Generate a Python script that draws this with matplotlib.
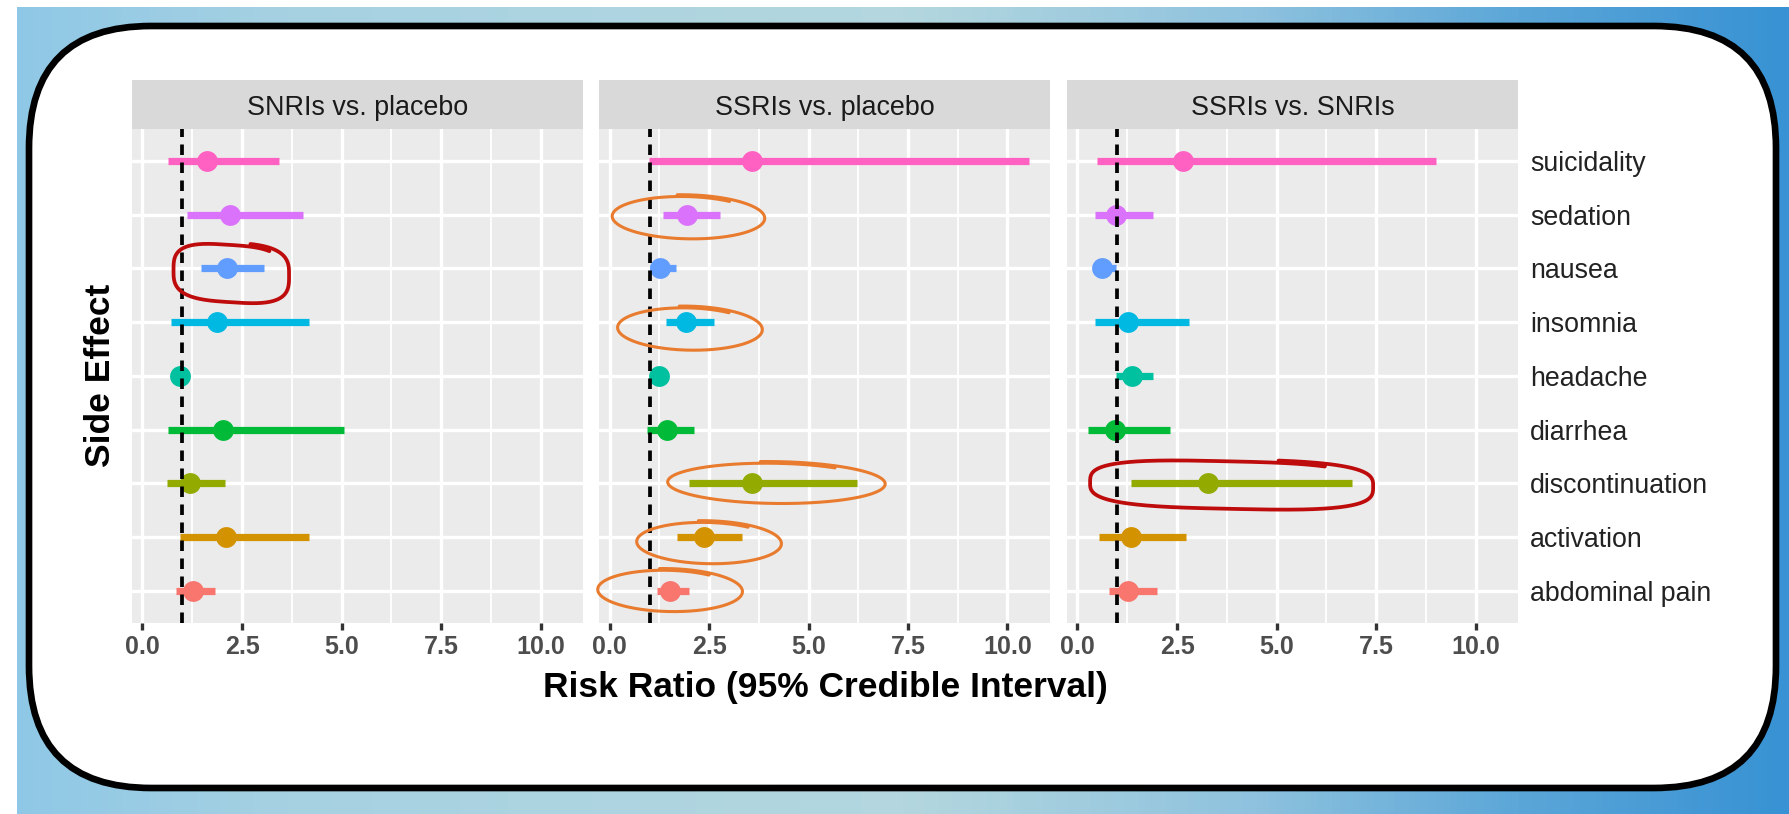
import numpy as np
import matplotlib
matplotlib.use("Agg")
import matplotlib.pyplot as plt
from matplotlib.patches import FancyBboxPatch
from matplotlib.colors import LinearSegmentedColormap

plt.rcParams["font.family"] = ["Liberation Sans", "DejaVu Sans"]

# ---------------------------------------------------------------- data
side_effects = ["abdominal pain", "activation", "discontinuation", "diarrhea",
                "headache", "insomnia", "nausea", "sedation", "suicidality"]
effect_colors = ["#F8766D", "#D39200", "#93AA00", "#00BA38", "#00C19F",
                 "#00B9E3", "#619CFF", "#DB72FB", "#FF61C3"]
comparisons = ["SNRIs vs. placebo", "SSRIs vs. placebo", "SSRIs vs. SNRIs"]

# risk ratio and 95% credible interval, in the order of side_effects
snri_placebo_rr    = [1.27, 2.09, 1.20, 2.02, 0.94, 1.87, 2.13, 2.19, 1.61]
snri_placebo_lower = [0.83, 0.94, 0.62, 0.65, 0.86, 0.72, 1.47, 1.13, 0.65]
snri_placebo_upper = [1.83, 4.19, 2.07, 5.07, 1.03, 4.19, 3.04, 4.02, 3.42]

ssri_placebo_rr    = [1.52, 2.38, 3.58, 1.44, 1.25, 1.92, 1.27, 1.94, 3.57]
ssri_placebo_lower = [1.19, 1.69, 2.00, 0.94, 1.12, 1.42, 1.00, 1.34, 0.98]
ssri_placebo_upper = [2.00, 3.33, 6.22, 2.12, 1.38, 2.61, 1.67, 2.76, 10.54]

ssri_snri_rr    = [1.27, 1.34, 3.28, 0.94, 1.38, 1.27, 0.61, 0.98, 2.65]
ssri_snri_lower = [0.78, 0.54, 1.34, 0.27, 0.96, 0.43, 0.45, 0.44, 0.48]
ssri_snri_upper = [1.99, 2.73, 6.89, 2.32, 1.90, 2.81, 0.96, 1.90, 9.01]

x_ticks = [0.0, 2.5, 5.0, 7.5, 10.0]
x_tick_labels = ["0.0", "2.5", "5.0", "7.5", "10.0"]
x_minor = [1.25, 3.75, 6.25, 8.75]
null_value = 1.0

panel_data = [
    (snri_placebo_rr, snri_placebo_lower, snri_placebo_upper),
    (ssri_placebo_rr, ssri_placebo_lower, ssri_placebo_upper),
    (ssri_snri_rr, ssri_snri_lower, ssri_snri_upper),
]

# hand-drawn highlight loops: (panel, side effect, x from, x to, top, bottom, colour)
highlights = [
    (0, "nausea", 0.72, 3.68, 0.47, -0.64, "red"),
    (1, "sedation", -0.02, 3.90, 0.36, -0.46, "orange"),
    (1, "insomnia", 0.12, 3.84, 0.29, -0.53, "orange"),
    (1, "discontinuation", 1.34, 6.93, 0.40, -0.38, "orange"),
    (1, "activation", 0.60, 4.32, 0.30, -0.50, "orange"),
    (1, "abdominal pain", -0.38, 3.34, 0.41, -0.39, "orange"),
    (2, "discontinuation", 0.17, 7.42, 0.44, -0.48, "red"),
]

# ---------------------------------------------------------------- figure
W, H = 1790, 814
fig = plt.figure(figsize=(W / 100, H / 100), dpi=100, facecolor="white")


def px_axes(x0, y0, x1, y1, **kw):
    """Axes from a pixel box measured from the top-left corner."""
    return fig.add_axes([x0 / W, 1 - y1 / H, (x1 - x0) / W, (y1 - y0) / H], **kw)


# backdrop: blue gradient behind a rounded white card
bg = fig.add_axes([0, 0, 1, 1], zorder=-5)
bg.set_xlim(0, W)
bg.set_ylim(H, 0)
bg.axis("off")
grad_cmap = LinearSegmentedColormap.from_list(
    "backdrop",
    [(0.00, "#8fc8e6"), (0.15, "#a6d1e2"), (0.50, "#b4d7df"),
     (0.70, "#8ec2de"), (0.85, "#5ba6d8"), (1.00, "#3892d3")])
bg.imshow(np.linspace(0, 1, 512)[None, :], extent=(17, W, H, 7),
          aspect="auto", cmap=grad_cmap, interpolation="bicubic")
bg.add_patch(FancyBboxPatch((29, 26), 1776 - 29, 788 - 26,
                            boxstyle="round,pad=0,rounding_size=122",
                            fc="white", ec="black", lw=4.8))

panel_x = [(131.7, 583.3), (599.0, 1050.0), (1066.7, 1518.3)]
strip_top, panel_top, panel_bottom = 80.0, 128.5, 623.3
rows = np.arange(1, len(side_effects) + 1)

orange = "#E97B2E"
red = "#BE0B0B"


def scribble(ax, x_left, x_right, row, top, bottom, color, lw,
             square=2.0, tilt=0.0, overshoot=0.7, start=0.3 * np.pi):
    cx = (x_left + x_right) / 2
    a = (x_right - x_left) / 2
    cy = row + (top + bottom) / 2
    b = (top - bottom) / 2
    t = np.linspace(start, start + 2 * np.pi + overshoot, 500)
    frac = (t - start) / (2 * np.pi + overshoot)
    grow = 0.93 + 0.09 * frac
    c, s = np.cos(t), np.sin(t)
    e = 2.0 / square
    ux = np.sign(c) * np.abs(c) ** e
    uy = np.sign(s) * np.abs(s) ** e
    x = cx + a * grow * ux
    y = cy + b * grow * uy - tilt * b * ux
    ax.plot(x, y, color=color, lw=lw, clip_on=False, zorder=8,
            solid_capstyle="round", solid_joinstyle="round")


axes = []
for k, (title, (rr, lo, hi)) in enumerate(zip(comparisons, panel_data)):
    x0, x1 = panel_x[k]

    strip = px_axes(x0, strip_top, x1, panel_top)
    strip.set_facecolor("#D9D9D9")
    strip.set_xticks([])
    strip.set_yticks([])
    for sp in strip.spines.values():
        sp.set_visible(False)
    strip.text(0.5, 0.28, title, ha="center", va="baseline",
               fontsize=19.4, color="#1A1A1A", transform=strip.transAxes)

    ax = px_axes(x0, panel_top, x1, panel_bottom)
    axes.append(ax)
    ax.set_facecolor("#EBEBEB")
    for sp in ax.spines.values():
        sp.set_visible(False)
    ax.set_xlim(-0.27, 11.07)
    ax.set_ylim(0.4, len(side_effects) + 0.6)

    ax.set_xticks(x_ticks)
    ax.set_xticklabels(x_tick_labels, fontsize=18, fontweight="bold",
                       color="#4D4D4D")
    ax.set_xticks(x_minor, minor=True)
    ax.set_yticks(rows)
    ax.grid(which="major", color="white", lw=2.4, zorder=0)
    ax.grid(which="minor", axis="x", color="white", lw=1.3, zorder=0)
    ax.set_axisbelow(True)
    ax.tick_params(axis="x", which="major", length=5, width=2.4,
                   color="#333333", pad=3.5)
    ax.tick_params(axis="x", which="minor", length=0)
    ax.tick_params(axis="y", which="both", length=0)

    if k == len(comparisons) - 1:
        ax.yaxis.tick_right()
        ax.set_yticklabels(side_effects, fontsize=19.3, color="#222222")
        ax.tick_params(axis="y", pad=8.6)
    else:
        ax.set_yticklabels([])

    for i, name in enumerate(side_effects):
        ax.plot([lo[i], hi[i]], [rows[i], rows[i]], color=effect_colors[i],
                lw=5.2, solid_capstyle="butt", zorder=3)
        ax.plot(rr[i], rows[i], "o", ms=15, color=effect_colors[i],
                mec="none", zorder=4)

    ax.axvline(null_value, color="black", lw=2.7, ls=(0, (2.8, 2.0)), zorder=5)

for k, name, xl, xr, top, bottom, kind in highlights:
    row = rows[side_effects.index(name)]
    if kind == "orange":
        scribble(axes[k], xl, xr, row, top, bottom, orange, 2.2,
                 square=2.0, tilt=0.06, overshoot=0.75)
    else:
        scribble(axes[k], xl, xr, row, top, bottom, red, 2.7,
                 square=3.2, tilt=0.12, overshoot=0.45)

fig.text(825 / W, 1 - 697 / H, "Risk Ratio (95% Credible Interval)",
         ha="center", va="baseline", fontsize=25.5, fontweight="bold",
         color="black")
fig.text(101 / W, 1 - 375.5 / H, "Side Effect", rotation=90,
         ha="center", va="center", fontsize=25.5, fontweight="bold",
         color="black")

fig.savefig("out.png", dpi=100, facecolor="white")
